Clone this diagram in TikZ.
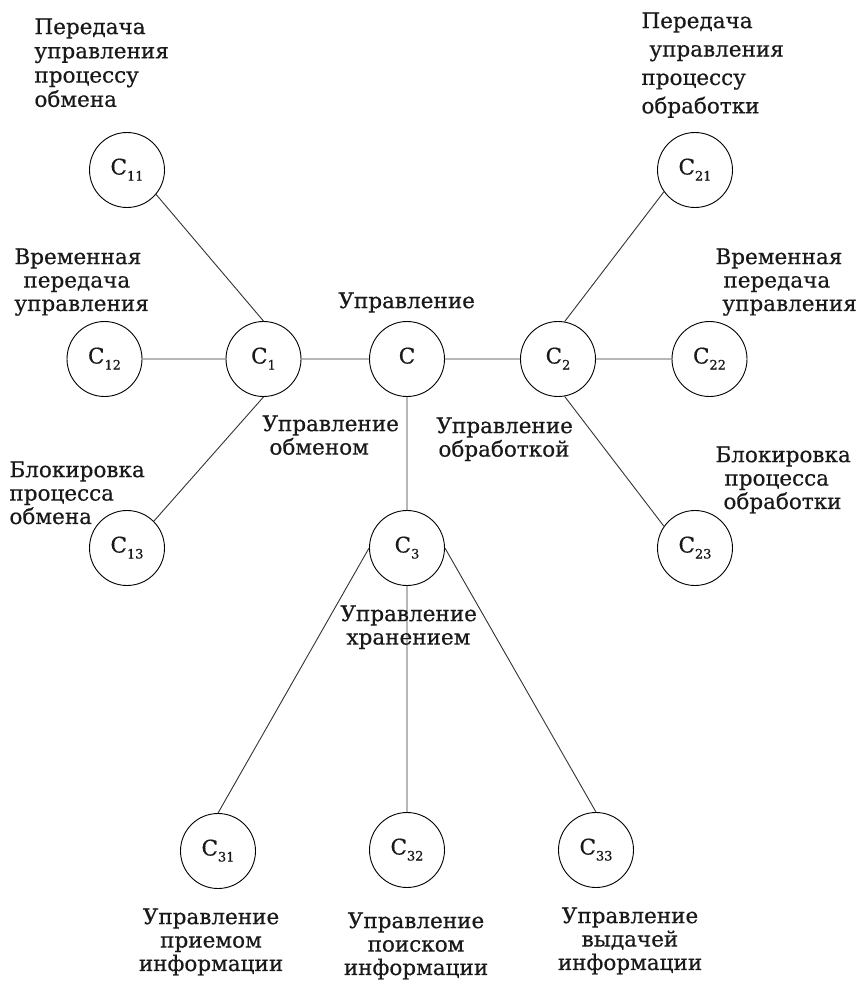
\documentclass[tikz,border=0pt]{standalone}
\usepackage{fontspec}
\setmainfont{DejaVu Serif}[FakeBold=0.5]
\usepackage{tikz}
\newcommand\sn[1]{C\raisebox{-6bp}{\fontsize{13}{13}\selectfont#1}}

\begin{document}
\begin{tikzpicture}[x=1bp,y=-1bp,line width=0.9bp,
  font=\fontsize{21.6}{23.5}\selectfont,text=black!90,
  cr/.style={circle,draw,minimum size=75bp,inner sep=0,text height=15bp,text depth=6bp},
  txt/.style={inner sep=0,align=left,anchor=north west},
  txtc/.style={inner sep=0,align=center,anchor=north}]
\useasboundingbox (0,0) rectangle (863,981);
\node[cr] (C) at (407,359) {C};
\node[cr] (C1) at (263.5,359) {\sn{1}};
\node[cr] (C2) at (558,359) {\sn{2}};
\node[cr] (C3) at (407,548) {\sn{3}};
\node[cr] (C11) at (127,170) {\sn{11}};
\node[cr] (C12) at (104.5,359) {\sn{12}};
\node[cr] (C13) at (127,548) {\sn{13}};
\node[cr] (C21) at (695,170) {\sn{21}};
\node[cr] (C22) at (709.5,359) {\sn{22}};
\node[cr] (C23) at (695,548) {\sn{23}};
\node[cr] (C31) at (218,851) {\sn{31}};
\node[cr] (C32) at (407,850) {\sn{32}};
\node[cr] (C33) at (596,850) {\sn{33}};
\draw[black!80](C12)--(C1)(C1)--(C)(C)--(C2)(C2)--(C22)
(C1.north)--(C11.-40)(C1.south)--(C13.45)(C2.80)--(C21.215)(C2.-80)--(C23.145)
(C.south)--(C3.north)(C3.west)--(C31.north)(C3.south)--(C32.north)(C3.east)--(C33.north);
% labels
\node[txt,font=\fontsize{21.6}{24.3}\selectfont] (l11) at (34,18) {Передача\\управления\\процессу\\обмена};
\node[txt] (l12) at (14,248) {Временная\\\hspace*{9bp}передача\\управления};
\node[txt] (l13) at (9,461) {Блокировка\\процесса\\обмена};
\node[txt,font=\fontsize{21.6}{28.5}\selectfont] (l21) at (641,12) {Передача\\\hspace*{8bp}управления\\процессу\\обработки};
\node[txt] (l22) at (715,248) {Временная\\\hspace*{8bp}передача\\\hspace*{7bp}управления};
\node[txt] (l23) at (715,446) {Блокировка\\\hspace*{9bp}процесса\\\hspace*{8bp}обработки};
\node[txt] (l0) at (338,292) {Управление};
\node[txt] (l1) at (262,415) {Управление\\\hspace*{7bp}обменом};
\node[txt] (l2) at (436,417) {Управление\\\hspace*{2bp}обработкой};
\node[txt] (l3) at (340,605) {Управление\\\hspace*{6bp}хранением};
\node[txtc] (l31) at (211,908) {Управление\\приемом\\информации};
\node[txtc] (l32) at (416,912) {Управление\\поиском\\информации};
\node[txtc] (l33) at (630,907) {Управление\\выдачей\\информации};
\end{tikzpicture}
\end{document}
